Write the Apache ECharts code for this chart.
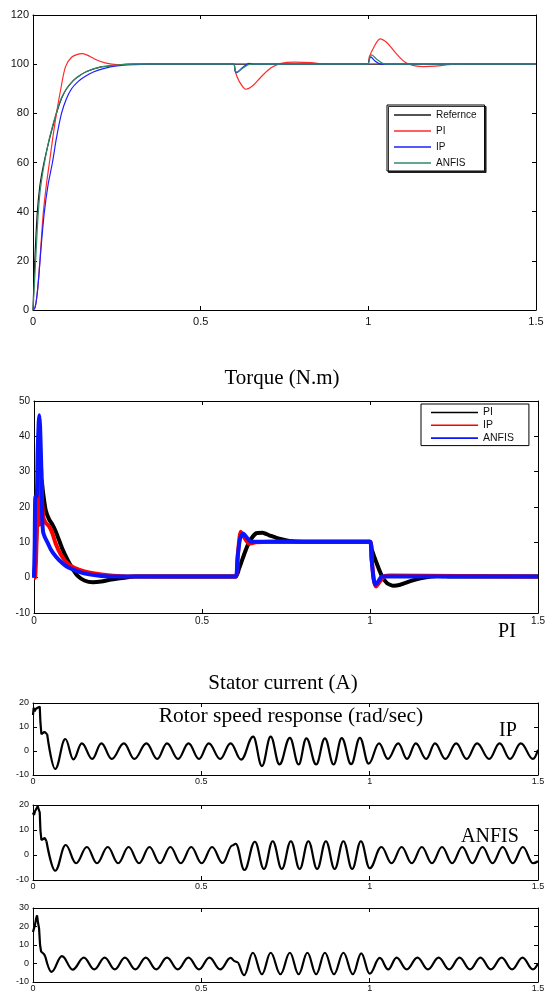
<!DOCTYPE html>
<html><head><meta charset="utf-8">
<script src="https://cdn.jsdelivr.net/npm/echarts@6/dist/echarts.min.js"></script>
<style>html,body{margin:0;padding:0;background:#fff}#c{width:548px;height:993px}</style>
</head><body><div id="c"></div><script>
// ---------- tick labels ----------
const xTicks = [0, 0.5, 1, 1.5];
const yTicks1 = [0, 20, 40, 60, 80, 100, 120];
const yTicks2 = [-10, 0, 10, 20, 30, 40, 50];
const yTicks3 = [-10, 0, 10, 20];
const yTicks4 = [-10, 0, 10, 20];
const yTicks5 = [-10, 0, 10, 20, 30];

// ---------- speed (top plot) ----------
const speedNames = ['Refernce', 'PI', 'IP', 'ANFIS'];
const speedRef = [[0,0],[0.003,12],[0.007,25],[0.013,40],[0.02,50],[0.027,56],[0.036,62],[0.05,70],[0.07,80],[0.085,86],[0.1,90],[0.12,93.3],[0.135,95],[0.16,97],[0.2,98.8],[0.25,99.6],[0.3,100],[1.5,100]];
const speedPI = [[0,0],[0.006,1],[0.012,6],[0.018,15],[0.024,27],[0.031,40],[0.04,51],[0.049,60],[0.059,70],[0.07,80],[0.083,90],[0.097,99],[0.115,102.8],[0.135,104.1],[0.145,104.3],[0.16,103.8],[0.185,102],[0.215,100.5],[0.25,99.8],[0.3,100],[0.59,100],[0.599,100],[0.603,97],[0.615,93],[0.635,89.8],[0.655,91.2],[0.68,94.8],[0.71,98.5],[0.74,100.3],[0.78,100.8],[0.83,100.6],[0.87,100],[0.99,100],[0.999,100],[1.003,103],[1.015,106.5],[1.035,110.3],[1.055,108.8],[1.08,104.8],[1.11,100.8],[1.14,99.3],[1.165,99],[1.2,99.2],[1.25,99.9],[1.3,100],[1.5,100]];
const speedIP = [[0,0],[0.006,1],[0.012,6],[0.018,15],[0.025,27],[0.034,40],[0.045,51],[0.058,60],[0.07,70],[0.085,80],[0.1,86],[0.115,90],[0.135,93],[0.155,95],[0.18,96.8],[0.21,98.2],[0.25,99.3],[0.3,99.8],[0.35,100],[0.59,100],[0.599,100],[0.603,97.3],[0.607,96.6],[0.625,98.6],[0.645,100.3],[0.66,100],[0.99,100],[0.999,100],[1.003,102],[1.007,103],[1.02,101.3],[1.035,100.1],[1.05,100],[1.5,100]];
const speedANFIS = [[0,0],[0.004,10],[0.009,23],[0.015,38],[0.021,48],[0.028,55],[0.037,62],[0.05,70.5],[0.07,80.5],[0.085,86.3],[0.1,90],[0.12,93.3],[0.135,95],[0.16,97],[0.2,98.8],[0.25,99.6],[0.3,100],[0.59,100],[0.599,100],[0.603,97.3],[0.608,96.8],[0.625,98.3],[0.645,99.9],[0.66,100],[0.99,100],[0.999,100],[1.003,102],[1.01,103.8],[1.025,102],[1.045,100.2],[1.06,100],[1.5,100]];

// ---------- torque ----------
const torqueNames = ['PI', 'IP', 'ANFIS'];
const torquePI = [[0,0],[0.004,5],[0.008,15],[0.012,22],[0.017,25],[0.022,28],[0.027,24],[0.035,19],[0.045,16.5],[0.055,15],[0.065,13],[0.075,10.5],[0.085,8],[0.1,5],[0.115,2.5],[0.13,0.5],[0.15,-0.8],[0.175,-1.3],[0.2,-1.1],[0.23,-0.5],[0.27,0],[0.3,0.3],[0.6,0.3],[0.61,2.5],[0.625,6.5],[0.64,10],[0.66,12.5],[0.68,12.7],[0.7,12],[0.73,11],[0.76,10.4],[0.8,10.2],[1.0,10.2],[1.005,8],[1.02,4],[1.035,0.5],[1.05,-1.5],[1.07,-2.3],[1.09,-2],[1.12,-1],[1.15,-0.2],[1.2,0.5],[1.25,0.3],[1.5,0.3]];
const torqueIP = [[0,0],[0.003,0],[0.006,5],[0.01,18],[0.013,23],[0.016,15],[0.019,28],[0.021,31],[0.024,22],[0.028,17],[0.035,15.5],[0.045,14.5],[0.055,12.5],[0.065,9.5],[0.08,6.5],[0.1,4],[0.12,2.8],[0.15,1.8],[0.18,1.2],[0.22,0.7],[0.27,0.4],[0.6,0.3],[0.607,7],[0.615,13],[0.625,11.5],[0.64,9.6],[0.66,10],[0.7,10.2],[1.0,10.2],[1.005,5],[1.012,-1],[1.018,-2.5],[1.03,-1],[1.045,0.5],[1.06,0.6],[1.5,0.3]];
const torqueANFIS = [[0,0],[0.002,9],[0.004,23],[0.008,23],[0.011,36],[0.014,44],[0.016,46],[0.018,43],[0.02,37],[0.022,30],[0.024,18],[0.027,13],[0.032,11.5],[0.04,10],[0.05,8],[0.065,6],[0.08,4.5],[0.1,3],[0.13,1.8],[0.16,1],[0.2,0.5],[0.25,0.3],[0.6,0.3],[0.605,5],[0.613,11],[0.622,12.5],[0.632,11.5],[0.645,10.2],[0.7,10.2],[1.0,10.2],[1.004,6],[1.01,0],[1.016,-2],[1.025,-1],[1.035,0.3],[1.5,0.3]];

// ---------- lower three traces (start transient + oscillation extremes) ----------
const traceAStart = [[0,15],[0.002,18],[0.005,16.5],[0.008,17.5],[0.011,16.8],[0.014,18],[0.017,17.5],[0.02,18.5],[0.022,12],[0.025,7],[0.029,6.8],[0.034,8],[0.038,8.5],[0.042,7]];
const traceAWave = [[0.042,7],[0.066,-7.5],[0.096,5],[0.12,-3.5],[0.145,3.2],[0.176,-3.3],[0.203,3.2],[0.234,-3.3],[0.27,3.2],[0.301,-3.3],[0.337,3.2],[0.369,-3.3],[0.398,3.2],[0.431,-3.3],[0.462,3.2],[0.493,-3.3],[0.522,3.2],[0.556,-3.3],[0.587,3.2],[0.618,-3.6],[0.654,6],[0.68,-6.3],[0.706,6],[0.732,-5.6],[0.763,5.5],[0.789,-5.6],[0.812,5.3],[0.841,-5.6],[0.867,5.3],[0.893,-5.6],[0.917,5.4],[0.945,-5.5],[0.971,5.5],[0.997,-5.3],[1.028,3.2],[1.054,-3.3],[1.085,3.2],[1.111,-3.3],[1.137,3.2],[1.168,-3.3],[1.194,3.2],[1.225,-3.3],[1.257,3.2],[1.288,-3.3],[1.319,3.2],[1.355,-3.3],[1.386,3.2],[1.417,-3.3],[1.449,3.2],[1.485,-3.3],[1.5,0.5]];
const traceBStart = [[0,17],[0.003,16],[0.006,17.5],[0.01,18],[0.014,19.5],[0.017,20],[0.02,17],[0.022,10],[0.025,6],[0.03,6.2],[0.035,6.8],[0.04,5.5]];
const traceBWave = [[0.04,5.5],[0.066,-6.3],[0.097,4],[0.128,-3.3],[0.16,3.2],[0.19,-3.3],[0.222,3.2],[0.253,-3.3],[0.284,3.2],[0.315,-3.3],[0.346,3.2],[0.377,-3.3],[0.408,3.2],[0.439,-3.3],[0.47,3.2],[0.501,-3.3],[0.532,3.2],[0.563,-3.2],[0.592,3.8],[0.602,4.5],[0.628,-6],[0.659,5.3],[0.686,-5.6],[0.712,5.5],[0.739,-5.6],[0.766,5.5],[0.792,-5.6],[0.818,5.5],[0.844,-5.6],[0.87,5.5],[0.896,-5.6],[0.922,5.5],[0.948,-5.6],[0.974,5.5],[1.0,-5.3],[1.035,3.2],[1.065,-3.3],[1.095,3.2],[1.125,-3.3],[1.155,3.2],[1.185,-3.3],[1.215,3.2],[1.245,-3.3],[1.275,3.2],[1.305,-3.3],[1.335,3.2],[1.365,-3.3],[1.395,3.2],[1.425,-3.3],[1.455,3.2],[1.485,-3.3],[1.5,-2.5]];
const traceCStart = [[0,17],[0.003,19],[0.006,21],[0.009,24],[0.012,26],[0.015,22],[0.018,19],[0.021,10],[0.024,6.5],[0.028,5.5],[0.033,5],[0.037,3.5]];
const traceCWave = [[0.037,3.5],[0.055,-4.5],[0.086,4],[0.118,-3.3],[0.151,3.2],[0.182,-3.2],[0.213,3.2],[0.243,-3.2],[0.273,3.2],[0.304,-3.2],[0.335,3.2],[0.366,-3.2],[0.398,3.2],[0.43,-3.2],[0.462,3.2],[0.493,-3.2],[0.524,3.2],[0.556,-3.2],[0.587,3],[0.6,1.2],[0.606,0.8],[0.627,-6.3],[0.653,5.8],[0.68,-5.8],[0.706,5.8],[0.735,-5.8],[0.763,5.8],[0.789,-5.8],[0.815,5.8],[0.841,-5.8],[0.867,5.8],[0.894,-5.8],[0.922,5.8],[0.95,-5.8],[0.975,5.5],[1.0,-5.5],[1.03,3],[1.055,-3.2],[1.08,3.2],[1.11,-3.2],[1.142,3.2],[1.173,-3.2],[1.205,3.2],[1.236,-3.2],[1.267,3.2],[1.298,-3.2],[1.329,3.2],[1.36,-3.2],[1.392,3.2],[1.423,-3.2],[1.454,3.2],[1.485,-3.2],[1.5,0]];

// ---------- layout ----------
const grids = [
  {left:33, top:15, width:503, height:295},
  {left:34, top:401, width:506, height:212},
  {left:33, top:703, width:505, height:72},
  {left:33, top:805, width:505, height:75},
  {left:33, top:908, width:505, height:74}
];
const yTickSets = [yTicks1, yTicks2, yTicks3, yTicks4, yTicks5];
const labelSizes = [11, 10, 9, 9, 9];
const xMargins = [6, 3, 2, 2, 2];

const xAxes = [], yAxes = [];
grids.forEach((g, i) => {
  const yt = yTickSets[i];
  const common = {
    gridIndex: i, type: 'value',
    axisLine: {show: true, onZero: false, lineStyle: {color: '#000', width: 1}},
    axisTick: {show: true, inside: true, length: 4, lineStyle: {color: '#000'}},
    splitLine: {show: false}
  };
  const lab = {fontSize: labelSizes[i], color: '#111', fontFamily: 'Liberation Sans, Arial, sans-serif'};
  xAxes.push(Object.assign({}, common, {position: 'bottom', min: xTicks[0], max: xTicks[xTicks.length-1], interval: xTicks[1]-xTicks[0],
    axisLabel: Object.assign({margin: xMargins[i], showMaxLabel: true, showMinLabel: true}, lab)}));
  xAxes.push(Object.assign({}, common, {position: 'top', min: xTicks[0], max: xTicks[xTicks.length-1], interval: xTicks[1]-xTicks[0],
    axisLabel: {show: false}}));
  yAxes.push(Object.assign({}, common, {position: 'left', min: yt[0], max: yt[yt.length-1], interval: yt[1]-yt[0],
    axisLabel: Object.assign({margin: 4}, lab)}));
  yAxes.push(Object.assign({}, common, {position: 'right', min: yt[0], max: yt[yt.length-1], interval: yt[1]-yt[0],
    axisLabel: {show: false}}));
});

function line(name, data, gi, color, width, smooth, mono, z) {
  return {
    name, type: 'line', data, xAxisIndex: 2*gi, yAxisIndex: 2*gi,
    symbol: 'none', smooth: smooth, smoothMonotone: mono || null,
    lineStyle: {color, width}, itemStyle: {color}, z: z || 2,
    clip: true, animation: false
  };
}

const series = [
  line(speedNames[0], speedRef, 0, '#1a1a1a', 1.2, 0.3),
  line(speedNames[1], speedPI, 0, '#ff2a2a', 1.2, 0.3),
  line(speedNames[2], speedIP, 0, '#1f1fff', 1.2, 0.3),
  line(speedNames[3], speedANFIS, 0, '#2f8a66', 1.2, 0.3),
  line('T_' + torqueNames[0], torquePI, 1, '#000000', 4, 0.2),
  line('T_' + torqueNames[1], torqueIP, 1, '#ff0000', 4, 0.2),
  line('T_' + torqueNames[2], torqueANFIS, 1, '#0a14ff', 4, 0.2),
  line('A0', traceAStart, 2, '#000', 2.2, false),
  line('A1', traceAWave, 2, '#000', 2.2, 0.4, 'x'),
  line('B0', traceBStart, 3, '#000', 2.2, false),
  line('B1', traceBWave, 3, '#000', 2.2, 0.4, 'x'),
  line('C0', traceCStart, 4, '#000', 2.2, false),
  line('C1', traceCWave, 4, '#000', 2.2, 0.4, 'x')
];

const serif = '"Liberation Serif", "Times New Roman", serif';
function txt(text, x, y, size) {
  return {type: 'text', x, y, z: 100, style: {text, font: size + 'px ' + serif, fill: '#000', align: 'center', verticalAlign: 'middle'}};
}

const chart = echarts.init(document.getElementById('c'), null, {renderer: 'canvas'});
chart.setOption({
  animation: false,
  backgroundColor: '#fff',
  grid: grids.map(g => Object.assign({containLabel: false}, g)),
  xAxis: xAxes,
  yAxis: yAxes,
  legend: [
    {
      data: speedNames, orient: 'vertical', left: 387, top: 105,
      icon: 'rect', padding: [4, 8, 2, 7], itemWidth: 37, itemHeight: 1.6, itemGap: 4,
      backgroundColor: '#fff', borderColor: '#000', borderWidth: 1,
      shadowColor: 'rgba(0,0,0,0.8)', shadowOffsetX: 1.5, shadowOffsetY: 1.5, shadowBlur: 0,
      selectedMode: false,
      textStyle: {fontSize: 10, lineHeight: 12, color: '#111', fontFamily: 'Liberation Sans, Arial, sans-serif'}
    },
    {
      data: torqueNames.map(n => 'T_' + n), orient: 'vertical', left: 421, top: 404,
      icon: 'rect', padding: [3, 15, 2, 10], itemWidth: 47, itemHeight: 1.6, itemGap: 1.8,
      backgroundColor: '#fff', borderColor: '#000', borderWidth: 1,
      selectedMode: false,
      formatter: n => n.replace('T_', ''),
      textStyle: {fontSize: 10.5, lineHeight: 10, color: '#111', fontFamily: 'Liberation Sans, Arial, sans-serif'}
    }
  ],
  graphic: [
    txt('Torque (N.m)', 282, 378, 21),
    txt('PI', 507, 632, 20),
    txt('Stator current (A)', 283, 683, 21),
    txt('Rotor speed response (rad/sec)', 291, 716, 21.5),
    txt('IP', 508, 731, 20),
    txt('ANFIS', 490, 837, 20)
  ],
  series
});
</script></body></html>
